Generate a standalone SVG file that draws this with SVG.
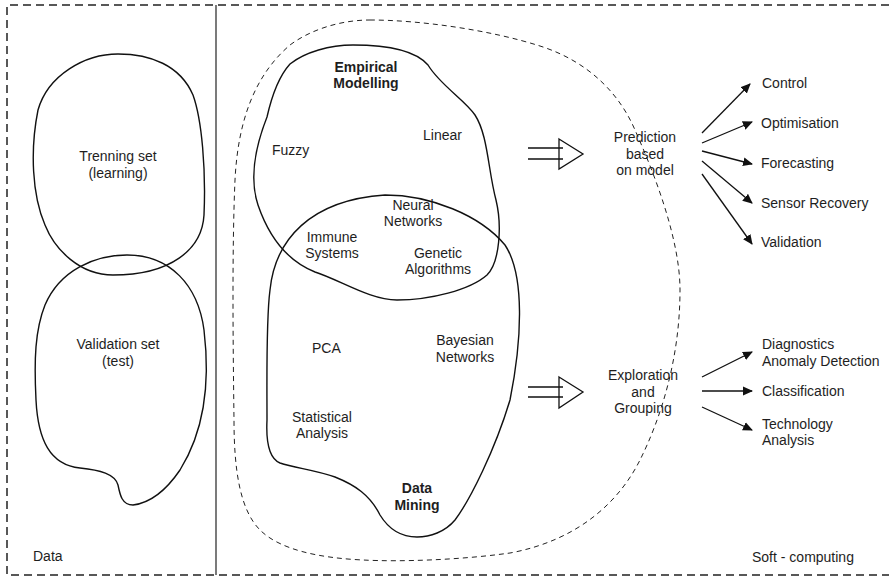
<svg xmlns="http://www.w3.org/2000/svg" width="889" height="577" viewBox="0 0 889 577">
  <style>
    .frame { fill: none; stroke: #222; stroke-width: 1.5; stroke-dasharray: 8 5; }
    .divider { fill: none; stroke: #222; stroke-width: 1.2; }
    .blob { fill: none; stroke: #111; stroke-width: 1.4; }
    .scope { fill: none; stroke: #222; stroke-width: 1; stroke-dasharray: 5 4; }
    .lbl { font-family: "Liberation Sans", Arial, sans-serif; font-size: 14px; fill: #1e1e1e; }
    .mid { text-anchor: middle; }
    .bold { font-weight: bold; }
    .conn { fill: none; stroke: #111; stroke-width: 1.3; }
    .hollow { fill: none; stroke: #111; stroke-width: 1.3; }
  </style>
  <defs>
    <marker id="head" viewBox="0 0 10 10" refX="9" refY="5" markerWidth="10" markerHeight="10" markerUnits="userSpaceOnUse" orient="auto">
      <path d="M0,0.5 L10,5 L0,9.5 Z" fill="#111"/>
    </marker>
  </defs>

  <rect width="889" height="577" fill="#fff"/>

  <!-- outer frame and data / soft-computing divider -->
  <g id="frame">
    <path class="frame" d="M889,5 H7 V575 H889"/>
    <line class="divider" x1="216" y1="5" x2="216" y2="575"/>
  </g>

  <!-- data sets -->
  <g id="training-set">
    <path class="blob" d="M118,54 C150,54 180,65 193,95 C202,120 206,170 204,215 C202,250 170,275 113,275 C80,275 55,250 45,225 C32,195 30,150 38,110 C48,75 85,54 118,54 Z"/>
    <text class="lbl mid" x="118" y="161">Trenning set</text>
    <text class="lbl mid" x="118" y="178">(learning)</text>
  </g>
  <g id="validation-set">
    <path class="blob" d="M127,255 C170,255 198,285 204,330 C210,380 205,430 180,470 C165,492 150,503 133,505 C122,505 120,495 118,485 C115,474 100,470 80,468 C50,465 38,440 36,400 C34,360 35,330 45,305 C60,270 95,255 127,255 Z"/>
    <text class="lbl mid" x="118" y="349">Validation set</text>
    <text class="lbl mid" x="118" y="366">(test)</text>
  </g>
  <g id="data-label">
    <text class="lbl" x="33" y="561">Data</text>
  </g>

  <!-- soft-computing scope -->
  <g id="soft-computing">
    <path class="scope" d="M370,20 C420,20 490,30 540,46 C590,62 620,95 635,130 C655,175 680,240 680,290 C680,360 660,420 640,460 C620,500 580,540 510,553 C460,560 400,562 363,560 C320,558 280,550 260,530 C240,510 234,470 234,420 C233,340 232,250 235,180 C238,120 255,75 290,45 C310,30 340,20 370,20 Z"/>
    <text class="lbl" x="752" y="562">Soft - computing</text>
  </g>

  <g id="empirical-modelling">
    <path class="blob" d="M353,45 C385,45 415,50 428,65 C440,85 465,100 475,115 C488,135 488,170 496,200 C502,225 500,262 487,275 C470,290 430,300 397,300 C370,300 340,280 315,272 C290,262 270,240 258,205 C248,175 258,140 267,117 C272,95 280,75 290,64 C305,52 330,45 353,45 Z"/>
    <text class="lbl mid bold" x="366" y="72">Empirical</text>
    <text class="lbl mid bold" x="366" y="88">Modelling</text>
    <text class="lbl" x="272" y="155">Fuzzy</text>
    <text class="lbl" x="423" y="140">Linear</text>
  </g>

  <g id="data-mining">
    <path class="blob" d="M385,195 C430,195 480,215 505,245 C525,275 522,340 510,400 C495,450 470,500 455,520 C445,532 430,537 417,537 C400,537 388,528 380,515 C370,495 355,485 335,477 C315,470 295,468 280,463 C268,458 266,440 267,420 C267,380 266,320 270,290 C275,240 310,200 385,195 Z"/>
    <text class="lbl mid bold" x="417" y="493">Data</text>
    <text class="lbl mid bold" x="417" y="510">Mining</text>
    <text class="lbl" x="312" y="353">PCA</text>
    <text class="lbl mid" x="465" y="345">Bayesian</text>
    <text class="lbl mid" x="465" y="362">Networks</text>
    <text class="lbl mid" x="322" y="422">Statistical</text>
    <text class="lbl mid" x="322" y="438">Analysis</text>
  </g>

  <g id="shared-methods">
    <text class="lbl mid" x="413" y="210">Neural</text>
    <text class="lbl mid" x="413" y="226">Networks</text>
    <text class="lbl mid" x="332" y="242">Immune</text>
    <text class="lbl mid" x="332" y="258">Systems</text>
    <text class="lbl mid" x="438" y="258">Genetic</text>
    <text class="lbl mid" x="438" y="274">Algorithms</text>
  </g>

  <g id="prediction">
    <text class="lbl mid" x="645" y="142">Prediction</text>
    <text class="lbl mid" x="645" y="159">based</text>
    <text class="lbl mid" x="645" y="175">on model</text>
  </g>
  <g id="exploration">
    <text class="lbl mid" x="643" y="380">Exploration</text>
    <text class="lbl mid" x="643" y="397">and</text>
    <text class="lbl mid" x="643" y="413">Grouping</text>
  </g>

  <g id="outcomes">
    <text class="lbl" x="762" y="88">Control</text>
    <text class="lbl" x="761" y="128">Optimisation</text>
    <text class="lbl" x="761" y="168">Forecasting</text>
    <text class="lbl" x="761" y="208">Sensor Recovery</text>
    <text class="lbl" x="761" y="247">Validation</text>
    <text class="lbl" x="762" y="349">Diagnostics</text>
    <text class="lbl" x="762" y="366">Anomaly Detection</text>
    <text class="lbl" x="762" y="396">Classification</text>
    <text class="lbl" x="762" y="429">Technology</text>
    <text class="lbl" x="762" y="445">Analysis</text>
  </g>

  <g id="connectors">
    <!-- hollow block arrows into the two application groups -->
    <path class="hollow" d="M528,148 H563 M528,159 H563 M559,139 L583,154 L559,169 Z"/>
    <path class="hollow" d="M528,387 H563 M528,397 H563 M559,377 L583,392 L559,408 Z"/>
    <!-- prediction fan -->
    <line class="conn" x1="702" y1="133" x2="750" y2="84" marker-end="url(#head)"/>
    <line class="conn" x1="702" y1="143" x2="752" y2="122" marker-end="url(#head)"/>
    <line class="conn" x1="702" y1="151" x2="752" y2="164" marker-end="url(#head)"/>
    <line class="conn" x1="702" y1="161" x2="752" y2="203" marker-end="url(#head)"/>
    <line class="conn" x1="702" y1="174" x2="752" y2="244" marker-end="url(#head)"/>
    <!-- exploration fan -->
    <line class="conn" x1="702" y1="377" x2="752" y2="352" marker-end="url(#head)"/>
    <line class="conn" x1="702" y1="391" x2="752" y2="391" marker-end="url(#head)"/>
    <line class="conn" x1="702" y1="407" x2="752" y2="430" marker-end="url(#head)"/>
  </g>
</svg>
